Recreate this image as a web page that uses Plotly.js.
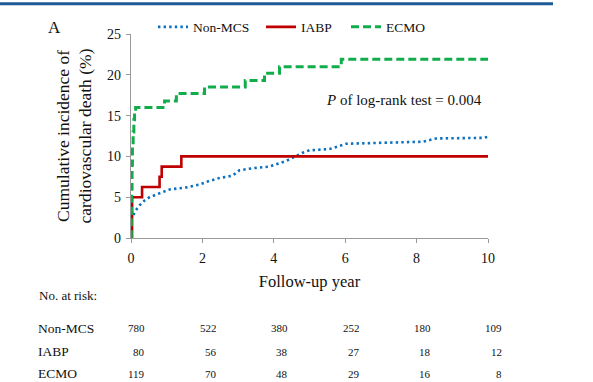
<!DOCTYPE html>
<html>
<head>
<meta charset="utf-8">
<script src="https://cdn.plot.ly/plotly-3.0.1.min.js"></script>
<style>
html,body{margin:0;padding:0;background:#fff;}
#chart{width:593px;height:382px;}
</style>
</head>
<body>
<div id="chart"></div>
<script>
// ---- data ----
const nonMcsYears = [0, 0.02, 0.05, 0.12, 0.24, 0.38, 0.52, 0.8, 1.08, 1.55, 1.92, 2.2, 2.48, 2.85, 3.04, 3.41, 3.88, 4.35, 4.81, 5.0, 5.56, 6.03, 7.05, 8.17, 8.55, 9.85, 10];
const nonMcsValues = [2.2, 2.4, 2.6, 3.3, 4.0, 4.6, 5.0, 5.5, 5.95, 6.2, 6.55, 7.0, 7.35, 7.65, 8.3, 8.55, 8.75, 9.45, 10.45, 10.75, 10.9, 11.55, 11.67, 11.8, 12.2, 12.27, 12.4];

const iabpYears = [0, 0.03, 0.31, 0.8, 0.86, 1.41, 10];
const iabpValues = [0, 5.0, 6.25, 7.5, 8.75, 10.0, 10.0];

const ecmoYears = [0, 0.01, 0.02, 0.03, 0.04, 0.06, 0.08, 0.1, 0.13, 0.94, 1.27, 2.06, 3.2, 3.74, 4.16, 5.89, 10];
const ecmoValues = [0, 3, 6, 9, 11.5, 13, 14.5, 15.3, 16.0, 16.8, 17.7, 18.5, 19.3, 20.2, 21.0, 21.9, 21.9];

const seriesNames = ["Non-MCS", "IABP", "ECMO"];
const riskYears = [0, 2, 4, 6, 8, 10];
const riskNonMcs = [780, 522, 380, 252, 180, 109];
const riskIabp = [80, 56, 38, 27, 18, 12];
const riskEcmo = [119, 70, 48, 29, 16, 8];

const xTicks = [0, 2, 4, 6, 8, 10];
const yTicks = [0, 5, 10, 15, 20, 25];

// ---- styling ----
const FONT = "Liberation Serif";
const TXT = "#111";
const BLUE = "#0a70c0", RED = "#c00000", GREEN = "#12ad4b";

const traces = [
  {x: nonMcsYears, y: nonMcsValues, name: seriesNames[0], mode: "lines",
   line: {color: BLUE, width: 2.6, dash: "2.4px,3.2px"}, legend: "legend"},
  {x: iabpYears, y: iabpValues, name: seriesNames[1], mode: "lines",
   line: {color: RED, width: 2.6, shape: "hv"}, legend: "legend2"},
  {x: ecmoYears, y: ecmoValues, name: seriesNames[2], mode: "lines",
   line: {color: GREEN, width: 3, dash: "8px,4px", shape: "hv"}, legend: "legend3"}
];

// pixel helpers for paper coordinates
const L = 131, R = 105, T = 32, B = 144, W = 593, H = 382;
const pw = W - L - R, ph = H - T - B;
const px = v => (v - L) / pw;
const py = v => (H - B - v) / ph;
const xMax = 10;

const annotations = [
  {text: "A", x: px(54), y: py(25), xref: "paper", yref: "paper", showarrow: false,
   xanchor: "center", yanchor: "middle", font: {family: FONT, size: 17, color: TXT}},
  {text: "<i>P</i> of log-rank test = 0.004", x: px(484), y: py(99), xref: "paper", yref: "paper",
   showarrow: false, xanchor: "right", yanchor: "middle", font: {family: FONT, size: 15, color: TXT}},
  {text: "No. at risk:", x: px(37), y: py(296), xref: "paper", yref: "paper", showarrow: false,
   xanchor: "left", yanchor: "middle", font: {family: FONT, size: 13, color: TXT}}
];
const rows = [[seriesNames[0], riskNonMcs, 329], [seriesNames[1], riskIabp, 353], [seriesNames[2], riskEcmo, 375]];
rows.forEach(([label, vals, ypx]) => {
  annotations.push({text: label, x: px(37), y: py(ypx), xref: "paper", yref: "paper", showarrow: false,
    xanchor: "left", yanchor: "middle", height: 13, borderpad: 0, font: {family: FONT, size: 13.5, color: TXT}});
  vals.forEach((v, i) => {
    annotations.push({text: String(v), x: (riskYears[i] + 0.43) / xMax, y: py(ypx), xref: "paper", yref: "paper",
      showarrow: false, xanchor: "right", yanchor: "middle", height: 12, borderpad: 0,
      font: {family: FONT, size: 11, color: TXT}});
  });
});

const legendBase = {orientation: "h", xref: "paper", yref: "paper", yanchor: "middle", xanchor: "left",
  bgcolor: "rgba(0,0,0,0)", font: {family: FONT, size: 13.5, color: TXT}, itemwidth: 30};

const layout = {
  width: W, height: H,
  margin: {l: L, r: R, t: T, b: B, pad: 0},
  paper_bgcolor: "#fff", plot_bgcolor: "#fff",
  font: {family: FONT, color: TXT},
  showlegend: true,
  legend: Object.assign({}, legendBase, {x: px(153), y: py(25)}),
  legend2: Object.assign({}, legendBase, {x: px(261), y: py(25)}),
  legend3: Object.assign({}, legendBase, {x: px(346), y: py(25)}),
  xaxis: {range: [0, xMax], tickvals: xTicks, ticks: "outside", ticklen: 4, tickcolor: "#999",
    showline: true, linecolor: "#999", linewidth: 1.2, showgrid: false, zeroline: false,
    tickfont: {family: FONT, size: 14, color: TXT}, ticklabelstandoff: 3,
    title: {text: "Follow-up year", font: {family: FONT, size: 16.5, color: TXT}, standoff: 10}},
  yaxis: {range: [0, 25], tickvals: yTicks, ticks: "outside", ticklen: 4, tickcolor: "#999",
    showline: true, linecolor: "#999", linewidth: 1.2, showgrid: false, zeroline: false,
    tickfont: {family: FONT, size: 14, color: TXT}, ticklabelstandoff: 2,
    title: {text: "Cumulative incidence of<br>cardiovascular death (%)",
      font: {family: FONT, size: 17.5, color: TXT}, standoff: 10}},
  annotations: annotations,
  shapes: [{type: "rect", xref: "paper", yref: "paper", x0: px(0), x1: px(553), y0: py(3), y1: py(0),
    fillcolor: "#1d5b97", line: {width: 0}}]
};

Plotly.newPlot("chart", traces, layout, {displayModeBar: false, staticPlot: true});
</script>
</body>
</html>
